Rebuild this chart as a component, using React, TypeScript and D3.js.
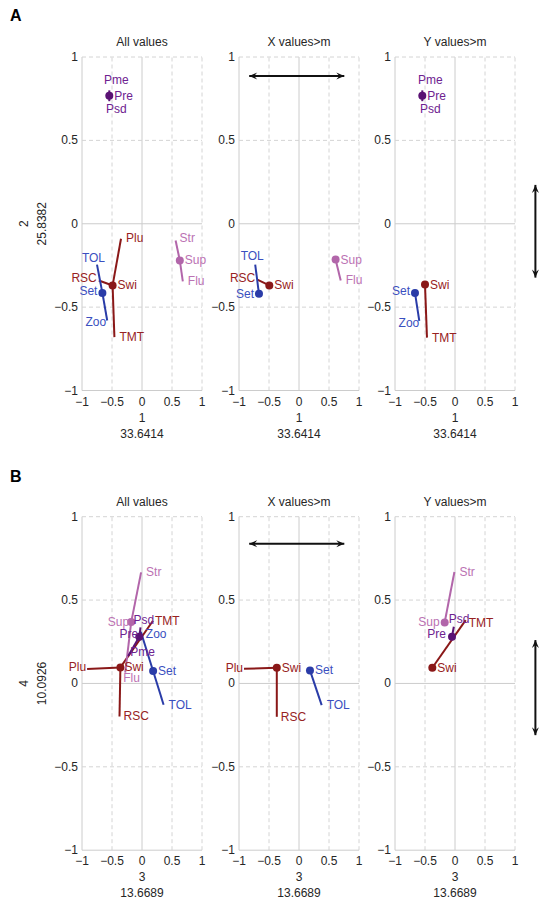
import React from "react";
import * as d3 from "d3";

// ---------- data ----------
const panelTitles = ["All values", "X values>m", "Y values>m"];
const figureLetters = ["A", "B"];
const xAxisLabels = [["1", "33.6414"], ["3", "13.6689"]];
const yAxisLabels = [["2", "25.8382"], ["4", "10.0926"]];
const tickValues = [-1, -0.5, 0, 0.5, 1];

// node: [name, x, y, parent]
type Node = [string, number, number, string | null];

const aAll: Node[] = [
  ["Pre", -0.545, 0.768, null], ["Pme", -0.545, 0.8, "Pre"], ["Psd", -0.545, 0.735, "Pre"],
  ["Swi", -0.49, -0.37, null], ["Plu", -0.35, -0.09, "Swi"], ["RSC", -0.72, -0.34, "Swi"], ["TMT", -0.46, -0.68, "Swi"],
  ["Set", -0.66, -0.415, null], ["TOL", -0.75, -0.245, "Set"], ["Zoo", -0.58, -0.58, "Set"],
  ["Sup", 0.63, -0.22, null], ["Str", 0.56, -0.1, "Sup"], ["Flu", 0.68, -0.345, "Sup"],
];
const aX: Node[] = [
  ["Swi", -0.495, -0.37, null], ["RSC", -0.695, -0.335, "Swi"],
  ["Set", -0.667, -0.42, null], ["TOL", -0.73, -0.245, "Set"],
  ["Sup", 0.61, -0.215, null], ["Flu", 0.695, -0.34, "Sup"],
];
const aY: Node[] = [
  ["Pre", -0.545, 0.768, null], ["Pme", -0.545, 0.8, "Pre"], ["Psd", -0.545, 0.735, "Pre"],
  ["Swi", -0.5, -0.365, null], ["TMT", -0.467, -0.683, "Swi"],
  ["Set", -0.667, -0.415, null], ["Zoo", -0.595, -0.583, "Set"],
];
const bAll: Node[] = [
  ["Swi", -0.36, 0.096, null], ["Plu", -0.915, 0.087, "Swi"], ["RSC", -0.375, -0.198, "Swi"], ["TMT", 0.183, 0.376, "Swi"],
  ["Set", 0.185, 0.075, null], ["TOL", 0.36, -0.128, "Set"], ["Zoo", -0.02, 0.31, "Set"],
  ["Sup", -0.18, 0.368, null], ["Str", -0.015, 0.666, "Sup"], ["Flu", -0.28, 0.065, "Sup"],
  ["Pre", -0.045, 0.28, null], ["Psd", -0.025, 0.337, "Pre"], ["Pme", -0.23, 0.165, "Pre"],
];
const bX: Node[] = [
  ["Swi", -0.37, 0.094, null], ["Plu", -0.917, 0.088, "Swi"], ["RSC", -0.37, -0.2, "Swi"],
  ["Set", 0.183, 0.078, null], ["TOL", 0.378, -0.13, "Set"],
];
const bY: Node[] = [
  ["Swi", -0.378, 0.094, null], ["TMT", 0.178, 0.38, "Swi"],
  ["Sup", -0.172, 0.366, null], ["Str", -0.01, 0.668, "Sup"],
  ["Pre", -0.05, 0.28, null], ["Psd", -0.02, 0.34, "Pre"],
];
const panelData = [[aAll, aX, aY], [bAll, bX, bY]];

// arrows (data coords): horizontal in middle panel, vertical at right of right panel
const hArrows = [[-0.83, 0.755, 0.886], [-0.83, 0.755, 0.838]];
const vArrows = [[1.34, 0.233, -0.323], [1.34, 0.26, -0.31]];

// ---------- styles ----------
const groupOf: Record<string, string> = {
  Pre: "purple", Pme: "purple", Psd: "purple",
  Swi: "red", Plu: "red", RSC: "red", TMT: "red",
  Set: "blue", TOL: "blue", Zoo: "blue",
  Sup: "pink", Str: "pink", Flu: "pink",
};
const lineColor: Record<string, string> = {
  purple: "#5a1274", red: "#8a1818", blue: "#2a3ca8", pink: "#b266aa",
};
const textColor: Record<string, string> = {
  purple: "#6e2290", red: "#972222", blue: "#3a4fc0", pink: "#bb72b3",
};

// label placement [anchor, dx, dy] per panel
type LP = [string, number, number];
const defaultLP: LP = ["start", 5, 0];
const labelPlace: Record<string, LP>[][] = [
  [
    { Pme: ["middle", 7, -10], Psd: ["middle", 7, 8], RSC: ["end", -2, -2], TOL: ["end", 8, -7], Set: ["end", -5, -2], Zoo: ["end", -1, 2], Plu: ["start", 5, -1], Str: ["start", 4, -2] },
    { RSC: ["end", -2, -2], TOL: ["middle", -3, -9], Set: ["end", -5, 0] },
    { Pme: ["middle", 8, -10], Psd: ["middle", 8, 8], Set: ["end", -5, -2], Zoo: ["end", 0, 2] },
  ],
  [
    { Sup: ["end", -2, 0], Psd: ["start", -7, -7], TMT: ["start", 2, 0], Pre: ["end", -1, -3], Zoo: ["start", 5, 2], Pme: ["start", 2, -4], Swi: ["start", 4, 0], Flu: ["start", -2, 5], Plu: ["end", -1, -2], RSC: ["start", 4, 0] },
    { Plu: ["end", -1, -1], RSC: ["start", 4, 0] },
    { Sup: ["end", -5, 0], Psd: ["start", -5, -8], TMT: ["start", 3, 3], Pre: ["end", -6, -3] },
  ],
];

const W = 539, H = 906;
const panelLefts = [82, 239, 395];
const panelWidth = 120;
const figTops = [57, 516.7];
const plotHeight = 333.5;
const FONT = "'Liberation Sans', Arial, Helvetica, sans-serif";
const GRID = "#d4d4d4";
const AXIS = "#cccccc";
const TXT = "#262626";

function Panel({ fi, pi }: { fi: number; pi: number }) {
  const left = panelLefts[pi];
  const top = figTops[fi];
  const x = d3.scaleLinear().domain([-1, 1]).range([left, left + panelWidth]);
  const y = d3.scaleLinear().domain([-1, 1]).range([top + plotHeight, top]);
  const nodes = panelData[fi][pi];
  const byName: Record<string, Node> = {};
  nodes.forEach((n) => (byName[n[0]] = n));
  const places = labelPlace[fi][pi];
  const solid = (t: number) => t === 0 || t === -1;
  return (
    <g>
      {tickValues.map((t) => (
        <line key={"gx" + t} x1={x(t)} x2={x(t)} y1={y(-1)} y2={y(1)}
          stroke={solid(t) ? AXIS : GRID} strokeWidth={1}
          strokeDasharray={solid(t) ? undefined : "4,3"} />
      ))}
      {tickValues.map((t) => (
        <line key={"gy" + t} y1={y(t)} y2={y(t)} x1={x(-1)} x2={x(1)}
          stroke={solid(t) ? AXIS : GRID} strokeWidth={1}
          strokeDasharray={solid(t) ? undefined : "4,3"} />
      ))}
      {tickValues.map((t) => (
        <text key={"tx" + t} x={x(t)} y={y(-1) + 11} textAnchor="middle" dominantBaseline="central"
          fontSize={12} fill={TXT} fontFamily={FONT}>{d3.format("")(t)}</text>
      ))}
      {tickValues.map((t) => (
        <text key={"ty" + t} x={x(-1) - 4} y={y(t)} textAnchor="end" dominantBaseline="central"
          fontSize={12} fill={TXT} fontFamily={FONT}>{d3.format("")(t)}</text>
      ))}
      <text x={x(0)} y={top - 15} textAnchor="middle" dominantBaseline="central" fontSize={12}
        fill={TXT} fontFamily={FONT}>{panelTitles[pi]}</text>
      <text x={x(0)} y={y(-1) + 27} textAnchor="middle" dominantBaseline="central" fontSize={12}
        fill={TXT} fontFamily={FONT}>{xAxisLabels[fi][0]}</text>
      <text x={x(0)} y={y(-1) + 43} textAnchor="middle" dominantBaseline="central" fontSize={12}
        fill={TXT} fontFamily={FONT}>{xAxisLabels[fi][1]}</text>
      {nodes.filter((n) => n[3]).map((n) => {
        const p = byName[n[3] as string];
        return (
          <line key={"l" + n[0]} x1={x(p[1])} y1={y(p[2])} x2={x(n[1])} y2={y(n[2])}
            stroke={lineColor[groupOf[n[0]]]} strokeWidth={2} strokeLinecap="butt" />
        );
      })}
      {nodes.filter((n) => !n[3]).map((n) => (
        <circle key={"c" + n[0]} cx={x(n[1])} cy={y(n[2])} r={4} fill={lineColor[groupOf[n[0]]]} />
      ))}
      {nodes.map((n) => {
        const lp = places[n[0]] || defaultLP;
        return (
          <text key={"t" + n[0]} x={x(n[1]) + lp[1]} y={y(n[2]) + lp[2]} textAnchor={lp[0]}
            dominantBaseline="central" fontSize={12} fill={textColor[groupOf[n[0]]]} fontFamily={FONT}>
            {n[0]}
          </text>
        );
      })}
    </g>
  );
}

function Arrow({ x1, y1, x2, y2 }: { x1: number; y1: number; x2: number; y2: number }) {
  const ang = Math.atan2(y2 - y1, x2 - x1);
  const head = (px: number, py: number, a: number) => {
    const L = 8, Wd = 3.5;
    const bx = px - L * Math.cos(a), by = py - L * Math.sin(a);
    const nx = -Math.sin(a), ny = Math.cos(a);
    return `M${px},${py}L${bx + nx * Wd},${by + ny * Wd}L${px - 5 * Math.cos(a)},${py - 5 * Math.sin(a)}L${bx - nx * Wd},${by - ny * Wd}Z`;
  };
  return (
    <g>
      <line x1={x1} y1={y1} x2={x2} y2={y2} stroke="#111" strokeWidth={2} />
      <path d={head(x2, y2, ang)} fill="#111" />
      <path d={head(x1, y1, ang + Math.PI)} fill="#111" />
    </g>
  );
}

export default function App() {
  return (
    <svg width={W} height={H} style={{ position: "absolute", left: 0, top: 0, background: "#fff" }}>
      <rect width={W} height={H} fill="#fff" />
      {figureLetters.map((letter, fi) => {
        const top = figTops[fi];
        const yMid = top + plotHeight / 2;
        const xm = d3.scaleLinear().domain([-1, 1]).range([panelLefts[1], panelLefts[1] + panelWidth]);
        const xr = d3.scaleLinear().domain([-1, 1]).range([panelLefts[2], panelLefts[2] + panelWidth]);
        const yS = d3.scaleLinear().domain([-1, 1]).range([top + plotHeight, top]);
        return (
          <g key={letter}>
            <text x={10} y={fi === 0 ? 21 : 481.7} fontSize={16} fontWeight="bold" fill="#000" fontFamily={FONT}>{letter}</text>
            <text transform={`translate(24,${yMid}) rotate(-90)`} textAnchor="middle" dominantBaseline="central"
              fontSize={12} fill={TXT} fontFamily={FONT}>{yAxisLabels[fi][0]}</text>
            <text transform={`translate(42,${yMid}) rotate(-90)`} textAnchor="middle" dominantBaseline="central"
              fontSize={12} fill={TXT} fontFamily={FONT}>{yAxisLabels[fi][1]}</text>
            {[0, 1, 2].map((pi) => <Panel key={pi} fi={fi} pi={pi} />)}
            <Arrow x1={xm(hArrows[fi][0])} y1={yS(hArrows[fi][2])} x2={xm(hArrows[fi][1])} y2={yS(hArrows[fi][2])} />
            <Arrow x1={xr(vArrows[fi][0])} y1={yS(vArrows[fi][1])} x2={xr(vArrows[fi][0])} y2={yS(vArrows[fi][2])} />
          </g>
        );
      })}
    </svg>
  );
}
